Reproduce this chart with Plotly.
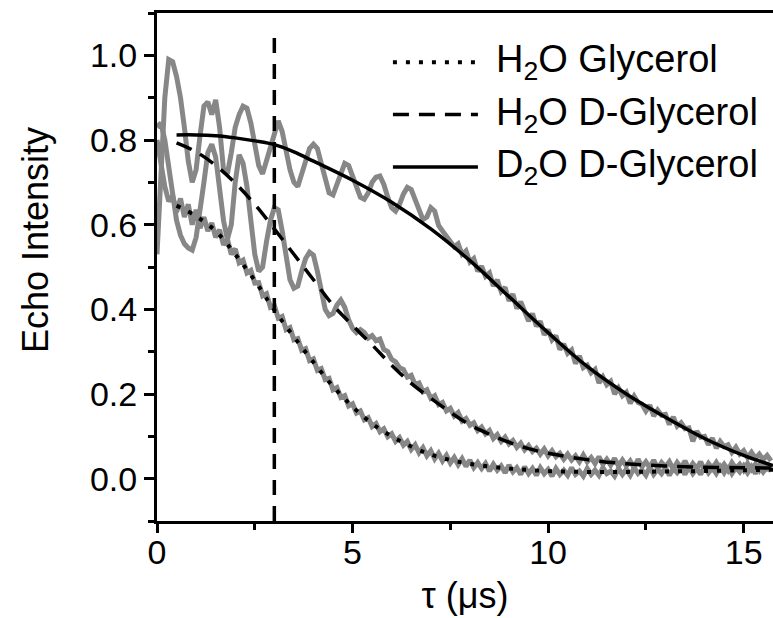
import numpy as np
import plotly.graph_objects as go

# Echo decay traces, sampled every 0.1 us starting at tau = 0
STEP_US = 0.1

h2o_gly_echo = [
    0.800, 0.735, 0.690, 0.655, 0.668, 0.630, 0.662, 0.618, 0.648, 0.600,
    0.635, 0.592, 0.618, 0.585, 0.604, 0.570, 0.588, 0.552, 0.566, 0.530,
    0.543, 0.510, 0.516, 0.486, 0.492, 0.462, 0.463, 0.432, 0.437, 0.405,
    0.409, 0.379, 0.383, 0.352, 0.357, 0.328, 0.331, 0.303, 0.307, 0.279,
    0.283, 0.256, 0.260, 0.234, 0.237, 0.210, 0.215, 0.192, 0.196, 0.172,
    0.177, 0.155, 0.160, 0.139, 0.144, 0.123, 0.130, 0.111, 0.118, 0.099,
    0.106, 0.088, 0.097, 0.079, 0.088, 0.069, 0.080, 0.061, 0.073, 0.054,
    0.066, 0.047, 0.060, 0.042, 0.055, 0.037, 0.050, 0.033, 0.047, 0.029,
    0.044, 0.026, 0.038, 0.024, 0.036, 0.018, 0.034, 0.020, 0.030, 0.014,
    0.032, 0.016, 0.026, 0.010, 0.028, 0.012, 0.024, 0.008, 0.026, 0.012,
    0.022, 0.006, 0.024, 0.010, 0.020, 0.008, 0.026, 0.010, 0.018, 0.006,
    0.024, 0.010, 0.020, 0.008, 0.026, 0.012, 0.018, 0.006, 0.024, 0.010,
    0.022, 0.008, 0.026, 0.012, 0.020, 0.008, 0.028, 0.010, 0.022, 0.012,
    0.026, 0.008, 0.024, 0.014, 0.026, 0.010, 0.028, 0.012, 0.024, 0.010,
    0.030, 0.014, 0.026, 0.012, 0.028, 0.014, 0.030, 0.012, 0.026, 0.016,
    0.030, 0.014, 0.028, 0.012, 0.030, 0.016, 0.028, 0.018,
]

h2o_dgly_echo = [
    0.830, 0.840, 0.800, 0.740, 0.670, 0.610, 0.575, 0.555, 0.545, 0.540,
    0.570, 0.630, 0.700, 0.770, 0.790, 0.760, 0.690, 0.610, 0.565, 0.600,
    0.700, 0.765, 0.745, 0.690, 0.610, 0.530, 0.490, 0.500, 0.560, 0.610,
    0.640, 0.635, 0.585, 0.520, 0.470, 0.450, 0.455, 0.490, 0.520, 0.535,
    0.528, 0.490, 0.440, 0.400, 0.385, 0.390, 0.410, 0.422, 0.405, 0.375,
    0.355, 0.345, 0.352, 0.345, 0.332, 0.338, 0.326, 0.330, 0.305, 0.300,
    0.282, 0.276, 0.262, 0.258, 0.240, 0.244, 0.222, 0.226, 0.205, 0.210,
    0.190, 0.196, 0.175, 0.180, 0.160, 0.166, 0.148, 0.156, 0.136, 0.142,
    0.126, 0.132, 0.114, 0.122, 0.106, 0.114, 0.095, 0.104, 0.088, 0.098,
    0.082, 0.090, 0.074, 0.084, 0.068, 0.078, 0.064, 0.072, 0.058, 0.070,
    0.054, 0.066, 0.052, 0.060, 0.046, 0.058, 0.044, 0.054, 0.040, 0.056,
    0.040, 0.050, 0.036, 0.052, 0.034, 0.046, 0.032, 0.048, 0.030, 0.044,
    0.030, 0.042, 0.026, 0.046, 0.028, 0.040, 0.026, 0.044, 0.024, 0.038,
    0.028, 0.040, 0.022, 0.038, 0.026, 0.042, 0.022, 0.036, 0.024, 0.040,
    0.020, 0.036, 0.024, 0.038, 0.022, 0.034, 0.020, 0.038, 0.024, 0.034,
    0.020, 0.036, 0.022, 0.034, 0.020, 0.036, 0.024, 0.032,
]

d2o_dgly_echo = [
    0.530, 0.700, 0.900, 0.990, 0.985, 0.950, 0.900, 0.830, 0.750, 0.700,
    0.730, 0.810, 0.880, 0.890, 0.860, 0.895, 0.830, 0.730, 0.720, 0.770,
    0.830, 0.860, 0.880, 0.875, 0.840, 0.790, 0.740, 0.720, 0.750, 0.790,
    0.820, 0.845, 0.820, 0.770, 0.730, 0.700, 0.690, 0.720, 0.755, 0.780,
    0.790, 0.780, 0.745, 0.705, 0.675, 0.670, 0.695, 0.725, 0.745, 0.740,
    0.715, 0.685, 0.665, 0.660, 0.675, 0.700, 0.712, 0.715, 0.695, 0.665,
    0.640, 0.632, 0.648, 0.672, 0.688, 0.683, 0.660, 0.632, 0.612, 0.618,
    0.640, 0.632, 0.598, 0.585, 0.572, 0.562, 0.548, 0.555, 0.530, 0.538,
    0.512, 0.520, 0.490, 0.502, 0.478, 0.486, 0.455, 0.470, 0.442, 0.452,
    0.420, 0.436, 0.402, 0.418, 0.392, 0.372, 0.390, 0.360, 0.372, 0.340,
    0.352, 0.328, 0.338, 0.305, 0.318, 0.296, 0.304, 0.272, 0.290, 0.262,
    0.268, 0.250, 0.258, 0.226, 0.240, 0.222, 0.230, 0.200, 0.214, 0.196,
    0.204, 0.178, 0.195, 0.180, 0.176, 0.160, 0.174, 0.148, 0.162, 0.150,
    0.152, 0.128, 0.146, 0.124, 0.132, 0.118, 0.120, 0.088, 0.112, 0.098,
    0.100, 0.080, 0.096, 0.072, 0.088, 0.076, 0.080, 0.062, 0.074, 0.058,
    0.066, 0.050, 0.062, 0.048, 0.058, 0.045, 0.055, 0.042,
]

# Fitted decay curves
fit_h2o_gly_tau = [0.5, 1.0, 1.5, 2.0, 2.5, 3.0, 3.5, 4.0, 4.5, 5.0, 5.5, 6.0,
                   6.5, 7.0, 7.5, 8.0, 9.0, 10.0, 11.0, 12.0, 13.0, 14.0, 15.0, 15.75]
fit_h2o_gly = [0.645, 0.620, 0.585, 0.530, 0.468, 0.398, 0.335, 0.275, 0.218, 0.170,
               0.130, 0.100, 0.076, 0.057, 0.044, 0.035, 0.024, 0.018, 0.016, 0.016,
               0.017, 0.018, 0.020, 0.021]

fit_h2o_dgly_tau = [0.5, 1.0, 1.5, 2.0, 2.5, 3.0, 3.5, 4.0, 4.5, 5.0, 5.5, 6.0, 6.5,
                    7.0, 7.5, 8.0, 8.5, 9.0, 9.5, 10.0, 11.0, 12.0, 13.0, 14.0, 15.0, 15.75]
fit_h2o_dgly = [0.793, 0.772, 0.740, 0.698, 0.648, 0.590, 0.530, 0.470, 0.410, 0.362,
                0.316, 0.268, 0.225, 0.190, 0.157, 0.127, 0.105, 0.086, 0.071, 0.060,
                0.045, 0.035, 0.030, 0.027, 0.026, 0.025]

fit_d2o_dgly_tau = [0.5, 1.0, 1.5, 2.0, 2.5, 3.0, 3.5, 4.0, 5.0, 6.0, 7.0, 8.0, 9.0,
                    10.0, 11.0, 12.0, 13.0, 14.0, 15.0, 15.75]
fit_d2o_dgly = [0.812, 0.812, 0.810, 0.805, 0.798, 0.789, 0.772, 0.750, 0.705, 0.653,
                0.590, 0.515, 0.430, 0.345, 0.265, 0.200, 0.145, 0.095, 0.055, 0.031]

legend_labels = ["H<sub>2</sub>O Glycerol", "H<sub>2</sub>O D-Glycerol", "D<sub>2</sub>O D-Glycerol"]

# Marker line at tau = 3 us
marker_tau = 3.0
marker_span = [-0.1, 1.06]

X_RANGE = [0, 15.75]
Y_RANGE = [-0.1, 1.1]

FONT = "Liberation Sans, Arial, sans-serif"
GRAY = "#878787"


def tau_axis(values):
    return np.round(np.arange(len(values)) * STEP_US, 2)


fig = go.Figure()

for echo in (h2o_gly_echo, h2o_dgly_echo, d2o_dgly_echo):
    fig.add_trace(go.Scatter(x=tau_axis(echo), y=echo, mode="lines",
                             line=dict(color=GRAY, width=5), showlegend=False,
                             hoverinfo="skip"))

fit_styles = [
    (fit_h2o_gly_tau, fit_h2o_gly, "4px,9px", 4),
    (fit_h2o_dgly_tau, fit_h2o_dgly, "16px,10px", 3.5),
    (fit_d2o_dgly_tau, fit_d2o_dgly, "solid", 3.5),
]
for tau, fit, dash, w in fit_styles:
    fig.add_trace(go.Scatter(x=tau, y=fit, mode="lines", line_shape="spline",
                             line=dict(color="black", width=w, dash=dash),
                             showlegend=False))

fig.add_trace(go.Scatter(x=[marker_tau, marker_tau], y=marker_span, mode="lines",
                         line=dict(color="black", width=3.5, dash="15px,11px"),
                         showlegend=False))

# Legend drawn inside the plot area
legend_rows_y = [0.903, 0.800, 0.697]
for (tau, fit, dash, w), label, ly in zip(fit_styles, legend_labels, legend_rows_y):
    fig.add_shape(type="line", xref="paper", yref="paper", x0=0.383, x1=0.521,
                  y0=ly, y1=ly, line=dict(color="black", width=w,
                                          dash=None if dash == "solid" else dash))
    fig.add_annotation(xref="paper", yref="paper", x=0.547, y=ly, text=label,
                       showarrow=False, xanchor="left", yanchor="middle",
                       font=dict(family=FONT, size=38, color="black"))

# Vertical axis title
fig.add_annotation(xref="paper", yref="paper", x=-0.198, y=0.553, text="Echo Intensity",
                   textangle=-90, showarrow=False, xanchor="center", yanchor="middle",
                   font=dict(family=FONT, size=36, color="black"))

axis_common = dict(
    showline=True, linecolor="black", linewidth=3,
    ticks="outside", tickwidth=3, tickcolor="black",
    showgrid=False, zeroline=False,
    tickfont=dict(family=FONT, size=34, color="black"),
)

fig.update_xaxes(range=X_RANGE, tick0=0, dtick=5, ticklen=9, mirror=True,
                 ticklabelstandoff=-10,
                 minor=dict(dtick=2.5, ticklen=6, tickwidth=3, ticks="outside",
                            tickcolor="black"),
                 title=dict(text="τ (μs)", font=dict(family=FONT, size=36, color="black"),
                            standoff=14),
                 **axis_common)
fig.update_yaxes(range=Y_RANGE, tick0=0, dtick=0.2, ticklen=10, tickformat=".1f",
                 minor=dict(dtick=0.1, tick0=0, ticklen=6, tickwidth=3, ticks="outside",
                            tickcolor="black"),
                 **axis_common)

fig.update_layout(
    width=773, height=618,
    margin=dict(l=157, r=0, t=13, b=97),
    paper_bgcolor="white", plot_bgcolor="white",
    showlegend=False,
)

fig.write_html("out.html")
